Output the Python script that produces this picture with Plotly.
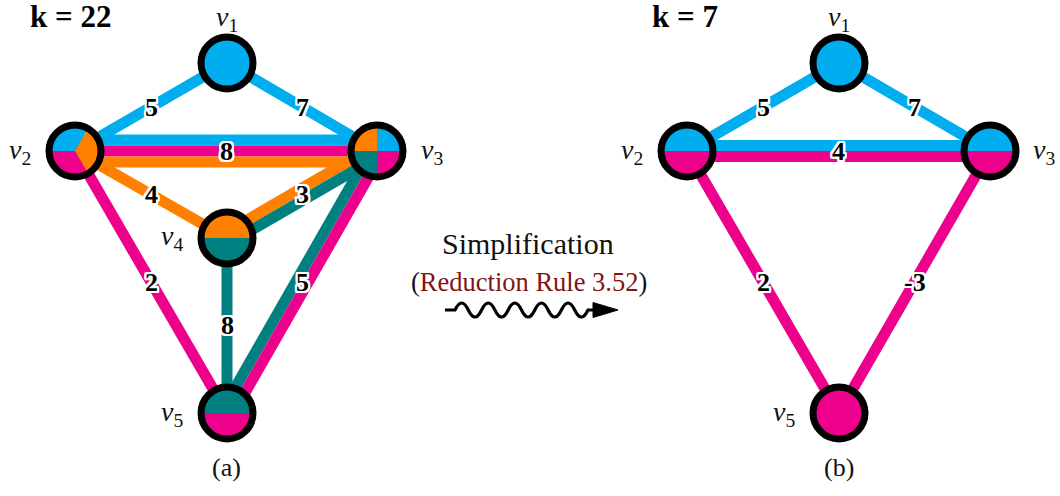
import math
import plotly.graph_objects as go

W, H = 1060, 496

CYAN = "#00AEEF"
MAGENTA = "#EC008C"
ORANGE = "#FF8000"
TEAL = "#008080"
DARKRED = "#7F1416"
INK = "#111111"
SERIF = "Liberation Serif"

# ---------------- data: graph (a) ----------------
a_names = ["v1", "v2", "v3", "v4", "v5"]
a_x = [227, 75, 377, 227, 227]
a_y = [63, 151, 151, 238, 413]
# (color, start angle, end angle) in degrees
a_sectors = {
    "v1": [(CYAN, 0, 360)],
    "v2": [(CYAN, 60, 180), (MAGENTA, 180, 300), (ORANGE, 300, 420)],
    "v3": [(CYAN, 0, 90), (ORANGE, 90, 180), (TEAL, 180, 270), (MAGENTA, 270, 360)],
    "v4": [(ORANGE, 0, 180), (TEAL, 180, 360)],
    "v5": [(TEAL, 0, 180), (MAGENTA, 180, 360)],
}
a_edges = [
    ("v1", "v2", [CYAN], "5"),
    ("v1", "v3", [CYAN], "7"),
    ("v2", "v3", [CYAN, MAGENTA, ORANGE], "8"),
    ("v2", "v4", [ORANGE], "4"),
    ("v4", "v3", [ORANGE, TEAL], "3"),
    ("v2", "v5", [MAGENTA], "2"),
    ("v4", "v5", [TEAL], "8"),
    ("v5", "v3", [TEAL, MAGENTA], "5"),
]
a_label_pos = {"v1": (227, 18), "v2": (20, 151), "v3": (432, 151), "v4": (172, 237), "v5": (172, 413)}

# ---------------- data: graph (b) ----------------
b_names = ["v1", "v2", "v3", "v5"]
b_x = [839, 687, 990, 839]
b_y = [63, 151, 151, 413]
b_sectors = {
    "v1": [(CYAN, 0, 360)],
    "v2": [(CYAN, 0, 180), (MAGENTA, 180, 360)],
    "v3": [(CYAN, 0, 180), (MAGENTA, 180, 360)],
    "v5": [(MAGENTA, 0, 360)],
}
b_edges = [
    ("v1", "v2", [CYAN], "5"),
    ("v1", "v3", [CYAN], "7"),
    ("v2", "v3", [CYAN, MAGENTA], "4"),
    ("v2", "v5", [MAGENTA], "2"),
    ("v3", "v5", [MAGENTA], "-3"),
]
b_label_pos = {"v1": (839, 18), "v2": (632, 151), "v3": (1044, 151), "v5": (784, 413)}

titles = [("k = 22", 28, 16), ("k = 7", 650, 16)]
captions = [("(a)", 226, 467), ("(b)", 839, 467)]

EDGE_W = 11
NODE_R = 26
NODE_BORDER = 7

fig = go.Figure()
shapes = []
annotations = []

HALO = ", ".join(f"{dx}px {dy}px 0 #fff" for dx in (-2, -1, 0, 1, 2) for dy in (-2, -1, 0, 1, 2) if dx or dy)


def draw_graph(names, xs, ys, sectors, edges, label_pos):
    pos = {n: (x, y) for n, x, y in zip(names, xs, ys)}
    # edges
    for a, b, cols, w in edges:
        (x0, y0), (x1, y1) = pos[a], pos[b]
        dx, dy = x1 - x0, y1 - y0
        L = math.hypot(dx, dy)
        nx, ny = -dy / L, dx / L
        k = len(cols)
        for i, c in enumerate(cols):
            off = (i - (k - 1) / 2) * EDGE_W
            shapes.append(dict(type="line", xref="x", yref="y",
                               x0=x0 + nx * off, y0=y0 + ny * off,
                               x1=x1 + nx * off, y1=y1 + ny * off,
                               line=dict(color=c, width=EDGE_W), layer="above"))
        annotations.append(dict(x=(x0 + x1) / 2, y=(y0 + y1) / 2, xref="x", yref="y",
                                text=f"<b>{w}</b>", showarrow=False,
                                font=dict(family=SERIF, size=26, color="black", shadow=HALO),
                                xanchor="center", yanchor="middle"))
    # nodes
    for n in names:
        cx, cy = pos[n]
        for c, a0, a1 in sectors[n]:
            if a1 - a0 >= 360:
                shapes.append(dict(type="circle", xref="x", yref="y",
                                   x0=cx - NODE_R, x1=cx + NODE_R, y0=cy - NODE_R, y1=cy + NODE_R,
                                   fillcolor=c, line=dict(width=0), layer="above"))
                continue
            steps = 48
            pts = [f"M{cx},{cy}"]
            for s in range(steps + 1):
                t = math.radians(a0 + (a1 - a0) * s / steps)
                pts.append(f"L{cx + NODE_R * math.cos(t):.2f},{cy - NODE_R * math.sin(t):.2f}")
            pts.append("Z")
            shapes.append(dict(type="path", xref="x", yref="y", path=" ".join(pts),
                               fillcolor=c, line=dict(width=0), layer="above"))
        shapes.append(dict(type="circle", xref="x", yref="y",
                           x0=cx - NODE_R, x1=cx + NODE_R, y0=cy - NODE_R, y1=cy + NODE_R,
                           fillcolor="rgba(0,0,0,0)", line=dict(color="black", width=NODE_BORDER),
                           layer="above"))
        lx, ly = label_pos[n]
        annotations.append(dict(x=lx, y=ly, xref="x", yref="y",
                                text=f"<i>v</i><sub>{n[1:]}</sub>", showarrow=False,
                                font=dict(family=SERIF, size=28, color=INK),
                                xanchor="center", yanchor="middle"))


draw_graph(a_names, a_x, a_y, a_sectors, a_edges, a_label_pos)
draw_graph(b_names, b_x, b_y, b_sectors, b_edges, b_label_pos)

for t, x, y in titles:
    annotations.append(dict(x=x, y=y, xref="x", yref="y", text=f"<b>{t}</b>", showarrow=False,
                            font=dict(family=SERIF, size=31, color="black"),
                            xanchor="left", yanchor="middle"))
for t, x, y in captions:
    annotations.append(dict(x=x, y=y, xref="x", yref="y", text=t, showarrow=False,
                            font=dict(family=SERIF, size=26, color=INK),
                            xanchor="center", yanchor="middle"))

annotations.append(dict(x=528, y=243, xref="x", yref="y", text="Simplification", showarrow=False,
                        font=dict(family=SERIF, size=30, color=INK),
                        xanchor="center", yanchor="middle"))
annotations.append(dict(x=529, y=282, xref="x", yref="y",
                        text=f"(<span style='color:{DARKRED}'>Reduction Rule 3.52</span>)",
                        showarrow=False,
                        font=dict(family=SERIF, size=26.5, color=INK),
                        xanchor="center", yanchor="middle"))

# wavy arrow
wx0, wx1, wy, amp, lam = 445, 455, 310, 7, 26.6
p = [f"M{wx0},{wy}", f"L{wx1},{wy}"]
x = wx1
for i in range(10):
    sgn = -1 if i % 2 == 0 else 1
    p.append(f"Q{x + lam / 4:.2f},{wy + sgn * 2 * amp:.2f} {x + lam / 2:.2f},{wy}")
    x += lam / 2
p.append(f"L{x + 6:.2f},{wy}")
shapes.append(dict(type="path", xref="x", yref="y", path=" ".join(p),
                   line=dict(color="black", width=3.2), layer="above"))
ax0 = x + 5
shapes.append(dict(type="path", xref="x", yref="y",
                   path=f"M{ax0:.2f},{wy - 7.5} L{ax0 + 25:.2f},{wy} L{ax0:.2f},{wy + 7.5} Z",
                   fillcolor="black", line=dict(color="black", width=1), layer="above"))

fig.update_layout(
    width=W, height=H, autosize=False,
    margin=dict(l=0, r=0, t=0, b=0),
    paper_bgcolor="white", plot_bgcolor="white",
    xaxis=dict(range=[0, W], visible=False, fixedrange=True),
    yaxis=dict(range=[H, 0], visible=False, fixedrange=True),
    shapes=shapes, annotations=annotations, showlegend=False,
)
fig.write_html("out.html", config={"displayModeBar": False},
               post_script="document.body.style.margin='0';document.body.style.overflow='hidden';")
